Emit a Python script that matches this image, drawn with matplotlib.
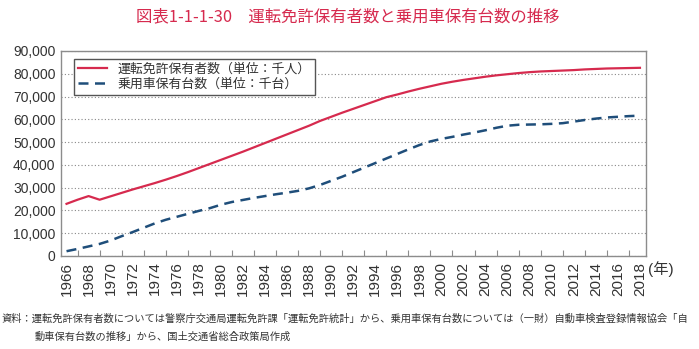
import matplotlib
matplotlib.use("Agg")
import matplotlib.pyplot as plt
from matplotlib.ticker import FuncFormatter, FixedLocator

plt.rcParams["font.family"] = ["Liberation Sans", "Noto Sans CJK JP", "DejaVu Sans"]

years = list(range(1966, 2019))

# 運転免許保有者数（千人）
license_holders = [
    22900, 24700, 26300, 24700, 26200, 27700, 29200, 30600, 32000, 33500,
    35100, 36800, 38600, 40400, 42200, 44000, 45800, 47700, 49600, 51500,
    53400, 55300, 57200, 59300, 61100, 62900, 64600, 66300, 68000, 69700,
    70900, 72200, 73400, 74500, 75600, 76500, 77300, 78000, 78700, 79300,
    79800, 80300, 80700, 81000, 81200, 81400, 81600, 81900, 82100, 82300,
    82400, 82500, 82600,
]

# 乗用車保有台数（千台）
passenger_cars = [
    2100, 3100, 4200, 5300, 6800, 8700, 10500, 12400, 14300, 15900,
    17200, 18500, 19800, 21000, 22500, 23700, 24600, 25500, 26300, 27100,
    27800, 28600, 29700, 31200, 33000, 34800, 36800, 38800, 40800, 42800,
    44800, 46800, 48700, 50300, 51400, 52300, 53300, 54200, 55200, 56300,
    57200, 57600, 57700, 57800, 58000, 58300, 59000, 59700, 60300, 60800,
    61100, 61400, 61600,
]

title = "図表1-1-1-30　運転免許保有者数と乗用車保有台数の推移"
label_license = "運転免許保有者数（単位：千人）"
label_cars = "乗用車保有台数（単位：千台）"
note1 = ("資料：運転免許保有者数については警察庁交通局運転免許課「運転免許統計」から、"
         "乗用車保有台数については（一財）自動車検査登録情報協会「自")
note2 = "動車保有台数の推移」から、国土交通省総合政策局作成"

RED = "#d62a4e"
BLUE = "#1f4e7a"
GRAY = "#8c8c8c"
TEXT = "#333333"

fig = plt.figure(figsize=(6.99, 3.49), dpi=100)
ax = fig.add_axes([0.0873, 0.2665, 0.8369, 0.5875])

ax.plot(years, license_holders, color=RED, linewidth=1.6, label=label_license)
ax.plot(years, passenger_cars, color=BLUE, linewidth=1.8, linestyle=(0, (4, 2.6)),
        label=label_cars)

ax.set_xlim(1965.5, 2018.55)
ax.set_ylim(0, 90000)
ax.set_yticks(range(0, 90001, 10000))
ax.yaxis.set_major_formatter(FuncFormatter(lambda v, p: f"{int(v):,}"))
ax.grid(axis="y", linestyle=(0, (1, 2)), color="#888888", linewidth=0.8)
ax.set_axisbelow(True)

ax.set_xticks(years[::2])
ax.set_xticklabels([str(y) for y in years[::2]], rotation=90)
ax.xaxis.set_minor_locator(FixedLocator([y + 1 for y in years[::2][:-1]]))
ax.tick_params(axis="x", which="major", length=0, pad=4, labelsize=11, labelcolor=TEXT)
ax.tick_params(axis="x", which="minor", direction="in", length=4, color=GRAY, width=0.8)
ax.tick_params(axis="y", length=0, pad=4, labelsize=10, labelcolor=TEXT)

for s in ax.spines.values():
    s.set_color(GRAY)
    s.set_linewidth(1.0)

leg = ax.legend(loc="upper left", bbox_to_anchor=(0.022, 0.963), borderaxespad=0,
                fontsize=9.3, frameon=True, fancybox=False, handlelength=2.2,
                handletextpad=0.8, borderpad=0.35, labelspacing=0.2,
                labelcolor=TEXT)
leg.get_frame().set_edgecolor("#555555")
leg.get_frame().set_linewidth(1.0)
leg.get_frame().set_facecolor("white")
leg.get_frame().set_alpha(1)

ax.text(1.004, -0.025, "(年)", transform=ax.transAxes, fontsize=11, color=TEXT,
        ha="left", va="top")

fig.text(0.497, 0.952, title, fontsize=11.8, color=RED, ha="center", va="center",
         family=["Noto Sans CJK JP"])
fig.text(0.002, 0.088, note1, fontsize=7.4, color=TEXT, ha="left", va="center",
         family=["Noto Sans CJK JP"])
fig.text(0.050, 0.036, note2, fontsize=7.4, color=TEXT, ha="left", va="center",
         family=["Noto Sans CJK JP"])

fig.savefig("out.png", dpi=100)
